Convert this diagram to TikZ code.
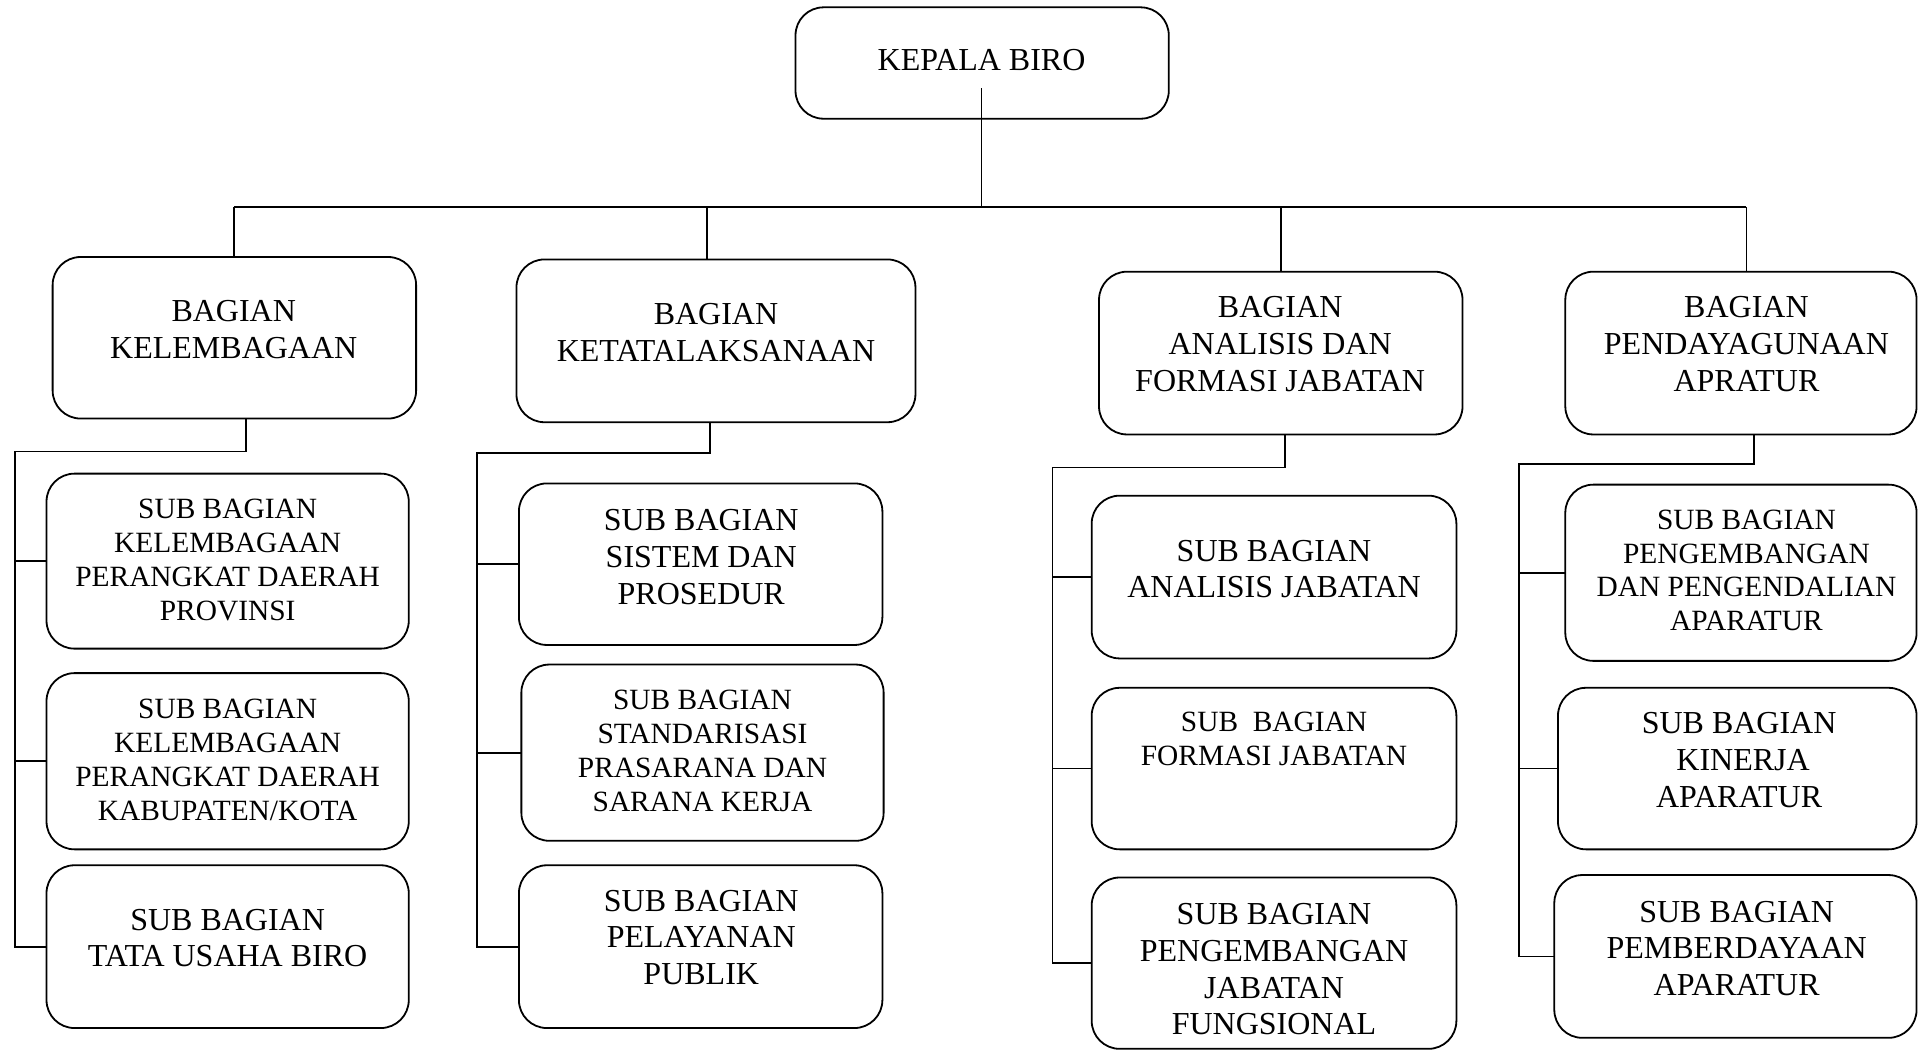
\documentclass[tikz,border=0pt]{standalone}
\usepackage{fontspec}
\setmainfont{Liberation Serif}
\tikzset{
  box/.style={draw, line width=0.9pt, rounded corners=14pt, inner sep=0pt, outer sep=0pt},
  big/.style={align=center, font=\fontsize{16}{18.36}\selectfont, inner sep=0pt},
  small/.style={align=center, font=\fontsize{14.7}{16.9}\selectfont, inner sep=0pt},
  conn/.style={line width=0.9pt, line join=miter},
}
\newcommand{\bx}[5]{\node[box, minimum width={(#4-#2)*0.612pt}, minimum height={(#5-#3)*0.612pt}] (#1) at ({(#2+#4)/2},{(#3+#5)/2}) {};}
\begin{document}
\begin{tikzpicture}[x=0.612pt, y=-0.612pt]
\useasboundingbox (0,0) rectangle (1568,859);
% boxes
\bx{kb}{650}{6}{955}{97}
\bx{b1}{43}{210}{340}{342}
\bx{b2}{422}{212}{748}{345}
\bx{b3}{898}{222}{1195}{355}
\bx{b4}{1279}{222}{1566}{355}
\bx{c1a}{38}{387}{334}{530}
\bx{c1b}{38}{550}{334}{694}
\bx{c1c}{38}{707}{334}{840}
\bx{c2a}{424}{395}{721}{527}
\bx{c2b}{426}{543}{722}{687}
\bx{c2c}{424}{707}{721}{840}
\bx{c3a}{892}{405}{1190}{538}
\bx{c3b}{892}{562}{1190}{694}
\bx{c3c}{892}{717}{1190}{857}
\bx{c4a}{1279}{396}{1566}{540}
\bx{c4b}{1273}{562}{1566}{694}
\bx{c4c}{1270}{715}{1566}{848}
% texts
\node[big] (t0) at (802,49) {KEPALA BIRO};
\node[big] (t1) at (191,269) {BAGIAN\\KELEMBAGAAN};
\node[big] (t2) at (585,271.5) {BAGIAN\\KETATALAKSANAAN};
\node[big] (t3) at (1046,281) {BAGIAN\\ANALISIS DAN\\FORMASI JABATAN};
\node[big] (t4) at (1427,281) {BAGIAN\\PENDAYAGUNAAN\\APRATUR};
\node[small] (t5) at (186,457.5) {SUB BAGIAN\\KELEMBAGAAN\\PERANGKAT DAERAH\\PROVINSI};
\node[small] (t6) at (186,621) {SUB BAGIAN\\KELEMBAGAAN\\PERANGKAT DAERAH\\KABUPATEN/KOTA};
\node[big] (t7) at (186,766.5) {SUB BAGIAN\\TATA USAHA BIRO};
\node[big] (t8) at (573,455) {SUB BAGIAN\\SISTEM DAN\\PROSEDUR};
\node[small] (t9) at (574,613.5) {SUB BAGIAN\\STANDARISASI\\PRASARANA DAN\\SARANA KERJA};
\node[big] (t10) at (573,766) {SUB BAGIAN\\PELAYANAN\\PUBLIK};
\node[big] (t11) at (1041,465) {SUB BAGIAN\\ANALISIS JABATAN};
\node[small] (t12) at (1041,603.5) {SUB\ \ BAGIAN\\FORMASI JABATAN};
\node[big] (t13) at (1041,792) {SUB BAGIAN\\PENGEMBANGAN\\JABATAN\\FUNGSIONAL};
\node[small] (t14) at (1427,466) {SUB BAGIAN\\PENGEMBANGAN\\DAN PENGENDALIAN\\APARATUR};
\node[big] (t15) at (1421,621) {SUB BAGIAN\\\ KINERJA\\APARATUR};
\node[big] (t16) at (1419,775) {SUB BAGIAN\\PEMBERDAYAAN\\APARATUR};
% top connectors
\coordinate (kbin) at (802,72);
\coordinate (busM) at (802,169);
\coordinate (busL) at (191,169);
\coordinate (busR) at (1427,169);
\coordinate (j2) at (578,169);
\coordinate (j4) at (1427,169);
\draw[conn] (kbin) -- (busM);
\draw[conn] (busL) -- (busR);
\draw[conn] (busL) -- (busL |- b1.north);
\draw[conn] (j2) -- (j2 |- b2.north);
\draw[conn] (b3.north |- busL) -- (b3.north);
\draw[conn] (j4) -- (j4 |- b4.north);
% column 1
\coordinate (k1) at (201,369);
\coordinate (s1) at (12,369);
\draw[conn] (k1 |- b1.south) -- (k1) -- (s1) -- (s1 |- c1c.west) -- (c1c.west);
\draw[conn] (s1 |- c1a.west) -- (c1a.west);
\draw[conn] (s1 |- c1b.west) -- (c1b.west);
% column 2
\coordinate (k2) at (580,370);
\coordinate (s2) at (390,370);
\draw[conn] (k2 |- b2.south) -- (k2) -- (s2) -- (s2 |- c2c.west) -- (c2c.west);
\draw[conn] (s2 |- c2a.west) -- (c2a.west);
\draw[conn] (s2 |- c2b.west) -- (c2b.west);
% column 3
\coordinate (k3) at (1050,382);
\coordinate (s3) at (860,382);
\draw[conn] (k3 |- b3.south) -- (k3) -- (s3) -- (s3 |- c3c.west) -- (c3c.west);
\draw[conn] (s3 |- c3a.west) -- (c3a.west);
\draw[conn] (s3 |- c3b.west) -- (c3b.west);
% column 4
\coordinate (k4) at (1433,379);
\coordinate (s4) at (1241,379);
\draw[conn] (k4 |- b4.south) -- (k4) -- (s4) -- (s4 |- c4c.west) -- (c4c.west);
\draw[conn] (s4 |- c4a.west) -- (c4a.west);
\draw[conn] (s4 |- c4b.west) -- (c4b.west);
\end{tikzpicture}
\end{document}
